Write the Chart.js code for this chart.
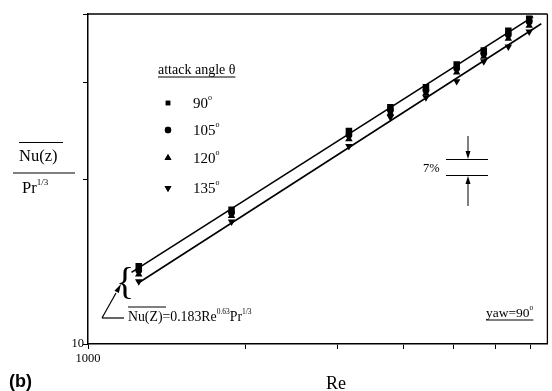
<!DOCTYPE html>
<html><head><meta charset="utf-8">
<script src="https://cdn.jsdelivr.net/npm/chart.js@4/dist/chart.umd.min.js"></script>
<style>html,body{margin:0;padding:0;background:#fff}canvas{display:block}</style>
</head><body>
<canvas id="c" width="552" height="391" style="width:552px;height:391px"></canvas>
<script>
// Data (Re vs Nu(z)/Pr^1/3, log-log)
const re = [1250, 1880, 3150, 3780, 4420, 5060, 5700, 6350, 6960];
const theta90  = [13.86, 17.58, 24.46, 27.04, 29.39, 32.36, 34.31, 37.30, 39.22];
const theta105 = [13.62, 17.36, 24.05, 26.70, 29.03, 31.83, 33.88, 36.68, 38.73];
const theta120 = [13.40, 17.14, 23.65, 26.37, 28.67, 31.29, 33.46, 36.07, 38.08];
const theta135 = [13.01, 16.72, 22.96, 25.93, 28.18, 30.15, 32.77, 34.88, 37.15];
const upperRe = [1211, 7080];
const upperFit = [13.51, 39.55];
const lowerRe = [1254, 7340];
const lowerFit = [12.96, 38.4];
const xTicks = [1000, 2000, 3000, 4000, 5000, 6000, 7000];
const yTicks = [10, 20, 30, 40];
const seriesLabels = ['90', '105', '120', '135'];

const pts = (xs, ys) => xs.map((x, i) => ({x: x, y: ys[i]}));
const SERIF = '"Liberation Serif", "DejaVu Serif", serif';

function mk(label, data, style, rot, r) {
  return {label: label, data: data, pointStyle: style, rotation: rot, pointRadius: r,
    backgroundColor: '#000', borderColor: '#000', borderWidth: 0, showLine: false};
}

function supText(ctx, parts, x, y) {
  let cx = x;
  for (const p of parts) {
    ctx.font = p[1] + 'px ' + SERIF;
    ctx.fillText(p[0], cx, y + p[2]);
    cx += ctx.measureText(p[0]).width;
  }
  return cx;
}
function line(ctx, x1, y1, x2, y2, w) {
  ctx.lineWidth = w || 1;
  ctx.beginPath(); ctx.moveTo(x1, y1); ctx.lineTo(x2, y2); ctx.stroke();
}
function arrowHead(ctx, x, y, ang, len, wid) {
  ctx.save(); ctx.translate(x, y); ctx.rotate(ang);
  ctx.beginPath(); ctx.moveTo(0, 0); ctx.lineTo(-len, -wid); ctx.lineTo(-len, wid); ctx.closePath();
  ctx.fill(); ctx.restore();
}

const annot = {
  id: 'annot',
  afterDraw(chart) {
    const ctx = chart.ctx, a = chart.chartArea;
    ctx.save();
    ctx.strokeStyle = '#000'; ctx.fillStyle = '#000';
    line(ctx, a.left, a.top, a.right, a.top, 1.3);
    line(ctx, a.right, a.top, a.right, a.bottom, 1.3);
    ctx.textBaseline = 'alphabetic'; ctx.textAlign = 'left';
    // y-axis label
    ctx.font = '16.5px ' + SERIF;
    ctx.fillText('Nu(z)', 19, 161);
    line(ctx, 19, 142.5, 63, 142.5, 1);
    line(ctx, 13, 173, 75, 173, 1.2);
    supText(ctx, [['Pr', 16.5, 0], ['1/3', 9, -8]], 22, 193);
    // legend
    ctx.font = '14px ' + SERIF;
    const t = 'attack angle \u03b8';
    ctx.fillText(t, 158, 74);
    const tw = ctx.measureText(t).width;
    line(ctx, 158, 77, 158 + tw, 77, 1);
    const ds = chart.data.datasets;
    const rows = [103, 130, 158, 188];
    const lr = [3.2, 3.2, 4, 4];
    for (let i = 0; i < 4; i++) {
      const d = ds[i];
      Chart.helpers.drawPoint(ctx, {pointStyle: d.pointStyle, rotation: d.rotation, radius: lr[i], borderWidth: 0}, 168, rows[i]);
      ctx.fill();
      supText(ctx, [[seriesLabels[i], 15, 0], ['o', 8, -8]], 193, rows[i] + 5);
    }
    // 7% annotation
    ctx.font = '12.5px ' + SERIF;
    ctx.fillText('7%', 423, 172);
    line(ctx, 446, 159.5, 488, 159.5, 1);
    line(ctx, 446, 175.5, 488, 175.5, 1);
    line(ctx, 468, 136, 468, 152, 1);
    arrowHead(ctx, 468, 159, Math.PI / 2, 8, 2.5);
    line(ctx, 468, 206, 468, 183, 1);
    arrowHead(ctx, 468, 176, -Math.PI / 2, 8, 2.5);
    // equation
    supText(ctx, [['Nu(Z)=0.183Re', 13.8, 0], ['0.63', 7.5, -7.5], ['Pr', 13.8, 0], ['1/3', 7.5, -7.5]], 128, 321);
    line(ctx, 128, 307, 166, 307, 1);
    line(ctx, 102, 318, 124, 318, 1.2);
    line(ctx, 102, 318, 116, 293, 1.2);
    arrowHead(ctx, 121, 284, Math.atan2(-9, 5), 9, 2.5);
    // brace
    ctx.font = '38px ' + SERIF;
    ctx.fillText('{', 116, 294);
    // yaw label
    const yx = supText(ctx, [['yaw=90', 13.5, 0], ['o', 7.5, -7.5]], 486, 317);
    line(ctx, 486, 320, yx, 320, 1);
    // x axis title
    ctx.font = '18px ' + SERIF;
    ctx.textAlign = 'center';
    ctx.fillText('Re', 336, 389);
    // panel label
    ctx.textAlign = 'left';
    ctx.font = 'bold 18px "Liberation Sans", Arial, sans-serif';
    ctx.fillText('(b)', 9, 387);
    ctx.restore();
  }
};

new Chart(document.getElementById('c'), {
  type: 'scatter',
  data: {
    datasets: [
      mk('90', pts(re, theta90), 'rect', 0, 4.6),
      mk('105', pts(re, theta105), 'circle', 0, 3.4),
      mk('120', pts(re, theta120), 'triangle', 0, 4.3),
      mk('135', pts(re, theta135), 'triangle', 180, 4.3),
      {label: 'upper', data: pts(upperRe, upperFit), showLine: true, pointRadius: 0, borderColor: '#000', borderWidth: 1.6},
      {label: 'lower', data: pts(lowerRe, lowerFit), showLine: true, pointRadius: 0, borderColor: '#000', borderWidth: 1.6}
    ]
  },
  options: {
    responsive: false, animation: false, devicePixelRatio: 1,
    layout: {padding: {top: 14, right: 1, left: 0, bottom: 0}},
    plugins: {legend: {display: false}, tooltip: {enabled: false}},
    scales: {
      x: {
        type: 'logarithmic', min: 1000, max: 7540,
        afterBuildTicks: s => { s.ticks = xTicks.map(v => ({value: v})); },
        afterFit: s => { s.height = 47; },
        grid: {drawOnChartArea: false, drawTicks: true, tickLength: 5, color: '#000', lineWidth: 1},
        border: {display: true, color: '#000', width: 1.5},
        ticks: {autoSkip: false, maxRotation: 0, padding: 2, color: '#000', font: {family: SERIF, size: 12.5},
          callback: v => (v === 1000 ? '1000' : '')}
      },
      y: {
        type: 'logarithmic', min: 10, max: 40,
        afterBuildTicks: s => { s.ticks = yTicks.map(v => ({value: v})); },
        afterFit: s => { s.width = 88; },
        grid: {drawOnChartArea: false, drawTicks: true, tickLength: 5, color: '#000', lineWidth: 1},
        border: {display: true, color: '#000', width: 1.5},
        ticks: {autoSkip: false, padding: -1, color: '#000', font: {family: SERIF, size: 12.5},
          callback: v => (v === 10 ? '10' : '')}
      }
    }
  },
  plugins: [annot]
});
</script>
</body></html>
